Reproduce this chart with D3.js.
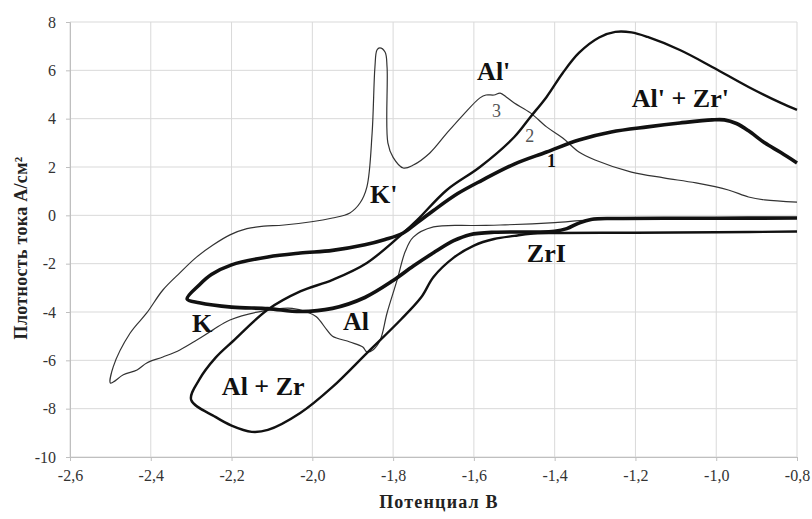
<!DOCTYPE html>
<html>
<head>
<meta charset="utf-8">
<script src="https://cdn.jsdelivr.net/npm/d3@7"></script>
<style>
  body { margin: 0; background: #fff; }
  svg { display: block; }
  svg text { font-family: "Liberation Serif", "Times New Roman", serif; }
</style>
</head>
<body>
<svg id="chart" width="812" height="519"></svg>
<script>
// potential (V) and current density (A/cm2)
const curve1Potential = [-0.80, -0.84, -0.88, -0.92, -0.95, -0.98, -1.01, -1.09, -1.17, -1.26, -1.34, -1.42, -1.50, -1.58, -1.64, -1.70, -1.74, -1.775, -1.82, -1.87, -1.95, -2.03, -2.11, -2.20, -2.25, -2.28, -2.31,
    -2.28, -2.20, -2.11, -2.03, -1.95, -1.87, -1.80, -1.75, -1.70, -1.65, -1.61, -1.55, -1.45, -1.40, -1.37, -1.34, -1.31, -1.25, -1.00, -0.80];
const curve1Current = [2.17, 2.6, 3.0, 3.5, 3.8, 3.95, 3.95, 3.82, 3.66, 3.45, 3.12, 2.62, 2.12, 1.45, 0.9, 0.2, -0.3, -0.73, -1.0, -1.22, -1.45, -1.56, -1.72, -2.05, -2.45, -2.88, -3.46,
    -3.62, -3.8, -3.86, -3.98, -3.85, -3.4, -2.7, -2.1, -1.55, -1.05, -0.8, -0.7, -0.69, -0.66, -0.55, -0.32, -0.17, -0.13, -0.12, -0.11];

const curve2Potential = [-0.80, -0.84, -0.92, -1.01, -1.09, -1.17, -1.21, -1.25, -1.29, -1.34, -1.38, -1.42, -1.46, -1.50, -1.585, -1.667, -1.74, -1.775, -1.865, -1.95, -2.03, -2.11, -2.196, -2.24, -2.28, -2.30,
    -2.24, -2.20, -2.15, -2.11, -2.03, -1.95, -1.865, -1.78, -1.73, -1.70, -1.65, -1.60, -1.55, -1.50, -1.46, -1.40, -1.20, -1.00, -0.80];
const curve2Current = [4.36, 4.65, 5.31, 6.14, 6.84, 7.38, 7.57, 7.59, 7.36, 6.72, 5.89, 4.9, 4.07, 3.24, 2.0, 1.05, -0.19, -0.73, -1.97, -2.67, -3.15, -3.9, -5.2, -5.9, -6.8, -7.64,
    -8.34, -8.7, -8.96, -8.88, -8.18, -7.1, -5.7, -4.3, -3.38, -2.55, -1.75, -1.25, -0.98, -0.85, -0.76, -0.73, -0.72, -0.7, -0.67];

const curve3Potential = [-0.80, -0.88, -0.92, -0.97, -1.05, -1.13, -1.21, -1.30, -1.34, -1.38, -1.42, -1.46, -1.50, -1.52, -1.535, -1.55, -1.57, -1.585, -1.627, -1.667, -1.709, -1.75, -1.775, -1.80, -1.813, -1.815, -1.82, -1.833, -1.84, -1.845, -1.852, -1.865, -1.882, -1.907, -1.95, -2.07, -2.12, -2.162, -2.204, -2.246, -2.286, -2.328, -2.37, -2.41, -2.451, -2.493, -2.50,
    -2.493, -2.468, -2.434, -2.41, -2.37, -2.328, -2.286, -2.246, -2.204, -2.12, -2.05, -2.013, -1.99, -1.964, -1.95, -1.907, -1.875, -1.865, -1.85, -1.832, -1.815, -1.79, -1.77, -1.75, -1.70, -1.60, -1.535, -1.40, -1.32, -1.20, -0.80];
const curve3Current = [0.55, 0.64, 0.76, 1.05, 1.34, 1.55, 1.79, 2.29, 2.62, 3.2, 3.66, 4.24, 4.65, 4.9, 5.06, 4.98, 4.98, 4.86, 4.15, 3.4, 2.58, 2.08, 1.96, 2.4, 3.0, 6.14, 6.76, 6.93, 6.84, 6.14, 3.4, 1.17, 0.51, 0.1, -0.11, -0.4, -0.45, -0.55, -0.81, -1.23, -1.72, -2.38, -3.09, -4.04, -4.87, -6.27, -6.94,
    -6.9, -6.6, -6.4, -6.11, -5.86, -5.57, -5.16, -4.74, -4.33, -3.95, -3.85, -4.0, -4.2, -4.74, -5.0, -5.24, -5.45, -5.65, -5.57, -5.16, -4.04, -2.67, -1.5, -0.9, -0.48, -0.42, -0.4, -0.3, -0.2, -0.13, -0.12];

const xTicks = [-2.6, -2.4, -2.2, -2.0, -1.8, -1.6, -1.4, -1.2, -1.0, -0.8];
const yTicks = [-10, -8, -6, -4, -2, 0, 2, 4, 6, 8];

// annotation text and its anchor in data units
const labelText = ["K'", "Al'", "Al' + Zr'", "ZrI", "K", "Al", "Al + Zr", "3", "2", "1"];
const labelPotential = [-1.857, -1.592, -1.209, -1.469, -2.298, -1.924, -2.224, -1.555, -1.473, -1.419];
const labelCurrent = [0.51, 5.6, 4.48, -1.93, -4.83, -4.74, -7.43, 4.07, 3.04, 2.0];

const margin = { top: 22, right: 15, bottom: 62, left: 70 };
const width = 812 - margin.left - margin.right;
const height = 519 - margin.top - margin.bottom;

const svg = d3.select("#chart");
const g = svg.append("g").attr("transform", `translate(${margin.left},${margin.top})`);

const x = d3.scaleLinear().domain([-2.6, -0.8]).range([0, width]);
const y = d3.scaleLinear().domain([-10, 8]).range([height, 0]);

// grid
g.selectAll(".vgrid").data(xTicks).enter().append("line")
    .attr("x1", d => x(d)).attr("x2", d => x(d))
    .attr("y1", 0).attr("y2", height)
    .attr("stroke", "#d9d9d9").attr("stroke-width", 1);
g.selectAll(".hgrid").data(yTicks).enter().append("line")
    .attr("x1", 0).attr("x2", width)
    .attr("y1", d => y(d)).attr("y2", d => y(d))
    .attr("stroke", "#d9d9d9").attr("stroke-width", 1);

const fmt = d => d3.format(".1f")(d).replace(".", ",").replace("−", "-");

const xAxis = g.append("g")
    .attr("transform", `translate(0,${height})`)
    .call(d3.axisBottom(x).tickValues(xTicks).tickFormat(fmt).tickSize(4).tickPadding(9));
const yAxis = g.append("g")
    .call(d3.axisLeft(y).tickValues(yTicks).tickFormat(d => String(d)).tickSize(4).tickPadding(10));

[xAxis, yAxis].forEach(a => {
    a.attr("font-family", null);
    a.select(".domain").attr("stroke", "#bfbfbf");
    a.selectAll(".tick line").attr("stroke", "#bfbfbf");
    a.selectAll(".tick text")
        .attr("font-size", 16)
        .attr("fill", "#333");
});

// curves
const line = d3.line()
    .x(d => x(d[0]))
    .y(d => y(d[1]))
    .curve(d3.curveCatmullRom.alpha(0.5));

const curves = [
    { p: curve3Potential, c: curve3Current, w: 1.2, color: "#333" },
    { p: curve2Potential, c: curve2Current, w: 2.4, color: "#111" },
    { p: curve1Potential, c: curve1Current, w: 3.6, color: "#111" }
];

curves.forEach(cv => {
    g.append("path")
        .datum(d3.zip(cv.p, cv.c))
        .attr("d", line)
        .attr("fill", "none")
        .attr("stroke", cv.color)
        .attr("stroke-width", cv.w)
        .attr("stroke-linejoin", "round");
});

// annotations
labelText.forEach((t, i) => {
    const small = t.length === 1 && /\d/.test(t);
    g.append("text")
        .attr("x", x(labelPotential[i]))
        .attr("y", y(labelCurrent[i]))
        .attr("font-size", small ? 18 : 26)
        .attr("font-weight", small && t !== "1" ? "normal" : "bold")
        .attr("fill", small && t !== "1" ? "#555" : "#111")
        .text(t);
});

// axis titles
svg.append("text")
    .attr("transform", "translate(27,248) rotate(-90)")
    .attr("text-anchor", "middle")
    .attr("font-size", 18)
    .attr("font-weight", "bold")
    .attr("letter-spacing", 0.3)
    .attr("fill", "#222")
    .text("Плотность тока А/см²");

svg.append("text")
    .attr("x", 439)
    .attr("y", 508)
    .attr("text-anchor", "middle")
    .attr("font-size", 18)
    .attr("font-weight", "bold")
    .attr("letter-spacing", 1.2)
    .attr("fill", "#222")
    .text("Потенциал В");
</script>
</body>
</html>
